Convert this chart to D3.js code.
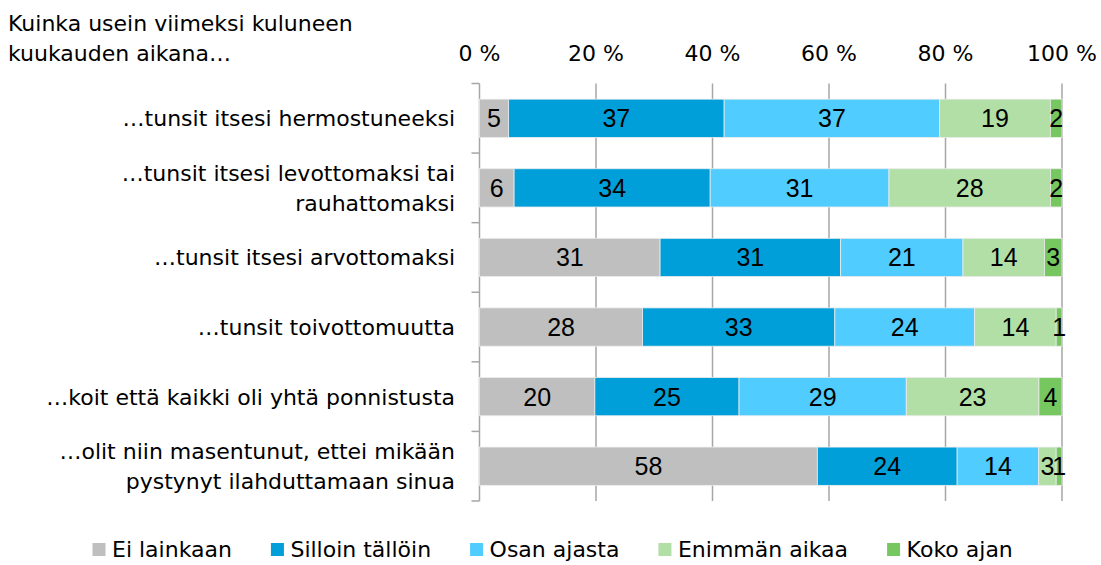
<!DOCTYPE html>
<meta charset="utf-8">
<style>
  body { margin: 0; background: #fff; }
  svg { font-family: "DejaVu Sans", sans-serif; }
  .grid line { stroke: #a6a6a6; stroke-width: 1.5; }
  .yaxis line { stroke: #a6a6a6; stroke-width: 1.5; fill: none; }
  .cat { font-size: 22px; fill: #000; }
  .val { font-family: "Liberation Sans", Arial, sans-serif; font-size: 25px; fill: #000; text-anchor: middle; }
  .tick-label { font-size: 22px; fill: #000; text-anchor: middle; }
  .legend text { font-size: 22px; fill: #000; }
</style>
<body></body>
<script src="https://d3js.org/d3.v7.min.js"></script>
<script>
// data
var titleLines = ["Kuinka usein viimeksi kuluneen", "kuukauden aikana\u2026"];
var categories = [
  ["\u2026tunsit itsesi hermostuneeksi"],
  ["\u2026tunsit itsesi levottomaksi tai", "rauhattomaksi"],
  ["\u2026tunsit itsesi arvottomaksi"],
  ["\u2026tunsit toivottomuutta"],
  ["\u2026koit että kaikki oli yhtä ponnistusta"],
  ["\u2026olit niin masentunut, ettei mikään", "pystynyt ilahduttamaan sinua"]
];
var seriesNames = ["Ei lainkaan", "Silloin tällöin", "Osan ajasta", "Enimmän aikaa", "Koko ajan"];
var eiLainkaan     = [5, 6, 31, 28, 20, 58];
var silloinTalloin = [37, 34, 31, 33, 25, 24];
var osanAjasta     = [37, 31, 21, 24, 29, 14];
var enimmanAikaa   = [19, 28, 14, 14, 23, 3];
var kokoAjan       = [2, 2, 3, 1, 4, 1];
var xTicks = [0, 20, 40, 60, 80, 100];
var colors = ["#bfbfbf", "#009fd9", "#50cdfe", "#b2dfa5", "#77c760"];

var W = 1101, H = 565;
var plot = {left: 479.5, right: 1062, top: 83.5, bottom: 501};

var svg = d3.select("body").append("svg").attr("width", W).attr("height", H);

var x = d3.scaleLinear().domain([0, 100]).range([plot.left, plot.right]);
var y = d3.scaleBand().domain(d3.range(categories.length)).range([plot.top, plot.bottom]).paddingInner(0.45).paddingOuter(0.225);
var yOuter = d3.scaleBand().domain(d3.range(categories.length)).range([plot.top, plot.bottom]);

// build rows (100% stacked)
var rows = categories.map(function(c, i) {
  var vals = [eiLainkaan[i], silloinTalloin[i], osanAjasta[i], enimmanAikaa[i], kokoAjan[i]];
  var total = d3.sum(vals), acc = 0;
  return vals.map(function(v, k) {
    var s = {row: i, k: k, v: v, x0: acc / total * 100, x1: (acc + v) / total * 100};
    acc += v;
    return s;
  });
});

// title
svg.append("text").attr("y", 31).style("font-size", "22px")
  .selectAll("tspan").data(titleLines).join("tspan")
  .attr("x", 8).attr("dy", function(d, i) { return i ? 30 : 0; }).text(function(d) { return d; });

// top tick labels
svg.selectAll(".tick-label").data(xTicks).join("text").attr("class", "tick-label")
  .attr("x", function(d) { return x(d); }).attr("y", 61).text(function(d) { return d + " %"; });

// gridlines
svg.append("g").attr("class", "grid").selectAll("line").data(xTicks.slice(1)).join("line")
  .attr("x1", function(d) { return x(d); }).attr("x2", function(d) { return x(d); })
  .attr("y1", plot.top).attr("y2", plot.bottom);

// left axis with category boundary ticks
var ya = svg.append("g").attr("class", "yaxis");
ya.append("line").attr("x1", plot.left).attr("x2", plot.left).attr("y1", plot.top).attr("y2", plot.bottom);
ya.selectAll(".bt").data(d3.range(categories.length + 1)).join("line").attr("class", "bt")
  .attr("x1", plot.left - 8).attr("x2", plot.left)
  .attr("y1", function(d) { return d < categories.length ? yOuter(d) : plot.bottom; })
  .attr("y2", function(d) { return d < categories.length ? yOuter(d) : plot.bottom; });

// bars
var seg = svg.append("g").selectAll("g").data(rows).join("g").selectAll("g").data(function(d) { return d; }).join("g");
seg.append("rect")
  .attr("x", function(d) { return x(d.x0); })
  .attr("width", function(d) { return x(d.x1) - x(d.x0); })
  .attr("y", function(d) { return y(d.row); })
  .attr("height", y.bandwidth())
  .attr("fill", function(d) { return colors[d.k]; })
  .attr("stroke", "#ececec").attr("stroke-width", 0.8);
seg.append("text").attr("class", "val")
  .attr("x", function(d) { return (x(d.x0) + x(d.x1)) / 2; })
  .attr("y", function(d) { return y(d.row) + y.bandwidth() / 2 + 9; })
  .text(function(d) { return d.v; });

// category labels
svg.append("g").selectAll("text").data(categories).join("text").attr("class", "cat")
  .attr("text-anchor", "end")
  .attr("y", function(d, i) { return yOuter(i) + yOuter.bandwidth() / 2 + 8 - (d.length - 1) * 15; })
  .selectAll("tspan").data(function(d) { return d; }).join("tspan")
  .attr("x", 455).attr("dy", function(d, i) { return i ? 30 : 0; })
  .text(function(d) { return d; });

// legend
var lg = svg.append("g").attr("class", "legend");
var lx = 92.5;
seriesNames.forEach(function(name, k) {
  var g = lg.append("g").attr("transform", "translate(" + lx + ",0)");
  g.append("rect").attr("x", 0).attr("y", 543).attr("width", 13).attr("height", 13).attr("fill", colors[k]);
  var t = g.append("text").attr("x", 19.5).attr("y", 557).text(name);
  lx += 19.5 + t.node().getComputedTextLength() + 39;
});
</script>
